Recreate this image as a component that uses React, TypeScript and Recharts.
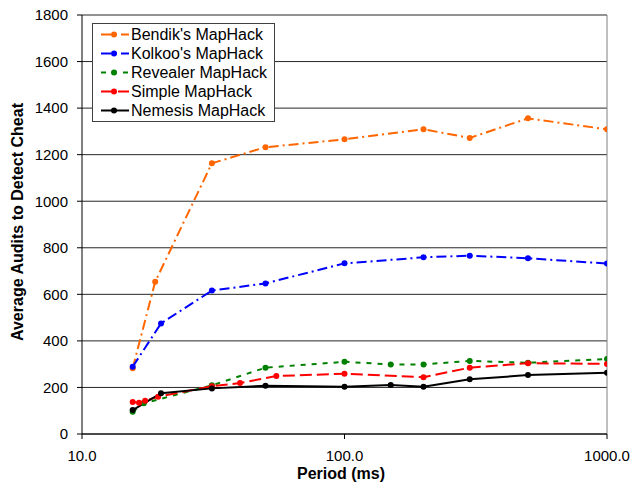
import React from 'react';
import { LineChart, Line, XAxis, YAxis, CartesianGrid, ReferenceLine, Legend, Label } from 'recharts';

const bendikPeriods = [15.6, 19, 31.25, 50, 100, 200, 300, 500, 1000];
const bendikAudits = [282, 654, 1163, 1232, 1266, 1309, 1272, 1356, 1309];

const kolkooPeriods = [15.6, 20, 31.25, 50, 100, 200, 300, 500, 1000];
const kolkooAudits = [289, 475, 616, 647, 733, 759, 766, 755, 732];

const revealerPeriods = [15.6, 17.2, 31.25, 50, 100, 150, 200, 300, 500, 1000];
const revealerAudits = [96, 132, 209, 285, 310, 299, 299, 314, 306, 322];

const simplePeriods = [15.6, 16.5, 17.4, 19.5, 31.25, 40, 55, 100, 200, 300, 500, 1000];
const simpleAudits = [137, 134, 143, 160, 205, 219, 249, 259, 244, 285, 304, 301];

const nemesisPeriods = [15.6, 20, 31.25, 50, 100, 150, 200, 300, 500, 1000];
const nemesisAudits = [103, 175, 196, 207, 203, 210, 203, 235, 253, 263];

const xTicks = [10, 100, 1000];
const yTicks = [0, 200, 400, 600, 800, 1000, 1200, 1400, 1600, 1800];

const FONT = '"Liberation Sans", Arial, sans-serif';

const toPoints = (xs: number[], ys: number[]) => xs.map((x, i) => ({ x, y: ys[i] }));

const series = [
  { name: "Bendik's MapHack", color: '#FF6600', dash: '10 4 2 4', data: toPoints(bendikPeriods, bendikAudits) },
  { name: "Kolkoo's MapHack", color: '#0000FF', dash: '10 4 2 4', data: toPoints(kolkooPeriods, kolkooAudits) },
  { name: 'Revealer MapHack', color: '#008000', dash: '5 6', data: toPoints(revealerPeriods, revealerAudits) },
  { name: 'Simple MapHack', color: '#FF0000', dash: '12 5', data: toPoints(simplePeriods, simpleAudits) },
  { name: 'Nemesis MapHack', color: '#000000', dash: undefined as string | undefined, data: toPoints(nemesisPeriods, nemesisAudits) },
];

const LegendBox = () => (
  <div
    style={{
      width: 181,
      height: 96,
      border: '1px solid #404040',
      background: '#fff',
      paddingTop: 1,
      boxSizing: 'content-box',
      fontFamily: FONT,
      fontSize: 16,
      color: '#000',
    }}
  >
    {series.map((s) => (
      <div key={s.name} style={{ height: 19, display: 'flex', alignItems: 'center', whiteSpace: 'nowrap' }}>
        <svg width={38} height={19} style={{ flex: 'none' }}>
          <line x1={8} x2={36} y1={9.5} y2={9.5} stroke={s.color} strokeWidth={2} strokeDasharray={s.dash} />
          <circle cx={21} cy={9.5} r={3} fill={s.color} />
        </svg>
        <span style={{ lineHeight: '19px' }}>{s.name}</span>
      </div>
    ))}
  </div>
);

export default function App() {
  return (
    <div style={{ position: 'absolute', left: 0, top: 0, width: 632, height: 485, background: '#fff' }}>
      <LineChart width={632} height={485} margin={{ top: 15, right: 25, bottom: 0, left: 0 }}>
        <CartesianGrid vertical={false} stroke="#000" strokeOpacity={0.85} />
        <XAxis
          dataKey="x"
          type="number"
          scale="log"
          domain={[10, 1000]}
          ticks={xTicks}
          allowDataOverflow
          height={51}
          tickSize={5}
          tickMargin={11}
          tickFormatter={(v: number) => v.toFixed(1)}
          stroke="#000"
          tick={{ fill: '#000', fontSize: 15, fontFamily: FONT }}
        >
          <Label
            content={() => (
              <text x={341} y={479} textAnchor="middle" fontFamily={FONT} fontWeight="bold" fontSize={16} fill="#000">
                Period (ms)
              </text>
            )}
          />
        </XAxis>
        <YAxis
          type="number"
          domain={[0, 1800]}
          ticks={yTicks}
          width={82}
          tickSize={5}
          tickMargin={9}
          stroke="#000"
          tick={{ fill: '#000', fontSize: 15, fontFamily: FONT }}
        >
          <Label
            content={() => (
              <text
                x={17}
                y={222}
                transform="rotate(-90 17 222)"
                textAnchor="middle"
                dominantBaseline="central"
                fontFamily={FONT}
                fontWeight="bold"
                fontSize={16}
                fill="#000"
              >
                Average Audits to Detect Cheat
              </text>
            )}
          />
        </YAxis>
        <ReferenceLine x={1000} stroke="#808080" strokeWidth={1} />
        {series.map((s) => (
          <Line
            key={s.name}
            data={s.data}
            dataKey="y"
            name={s.name}
            type="linear"
            stroke={s.color}
            strokeWidth={2}
            strokeDasharray={s.dash}
            dot={{ r: 3, fill: s.color, stroke: s.color, strokeWidth: 0, strokeDasharray: 'none' }}
            activeDot={false}
            isAnimationActive={false}
          />
        ))}
        <Legend
          layout="vertical"
          align="center"
          verticalAlign="middle"
          content={() => <LegendBox />}
          wrapperStyle={{ left: 92, top: 23, width: 183, height: 98 }}
        />
      </LineChart>
    </div>
  );
}
